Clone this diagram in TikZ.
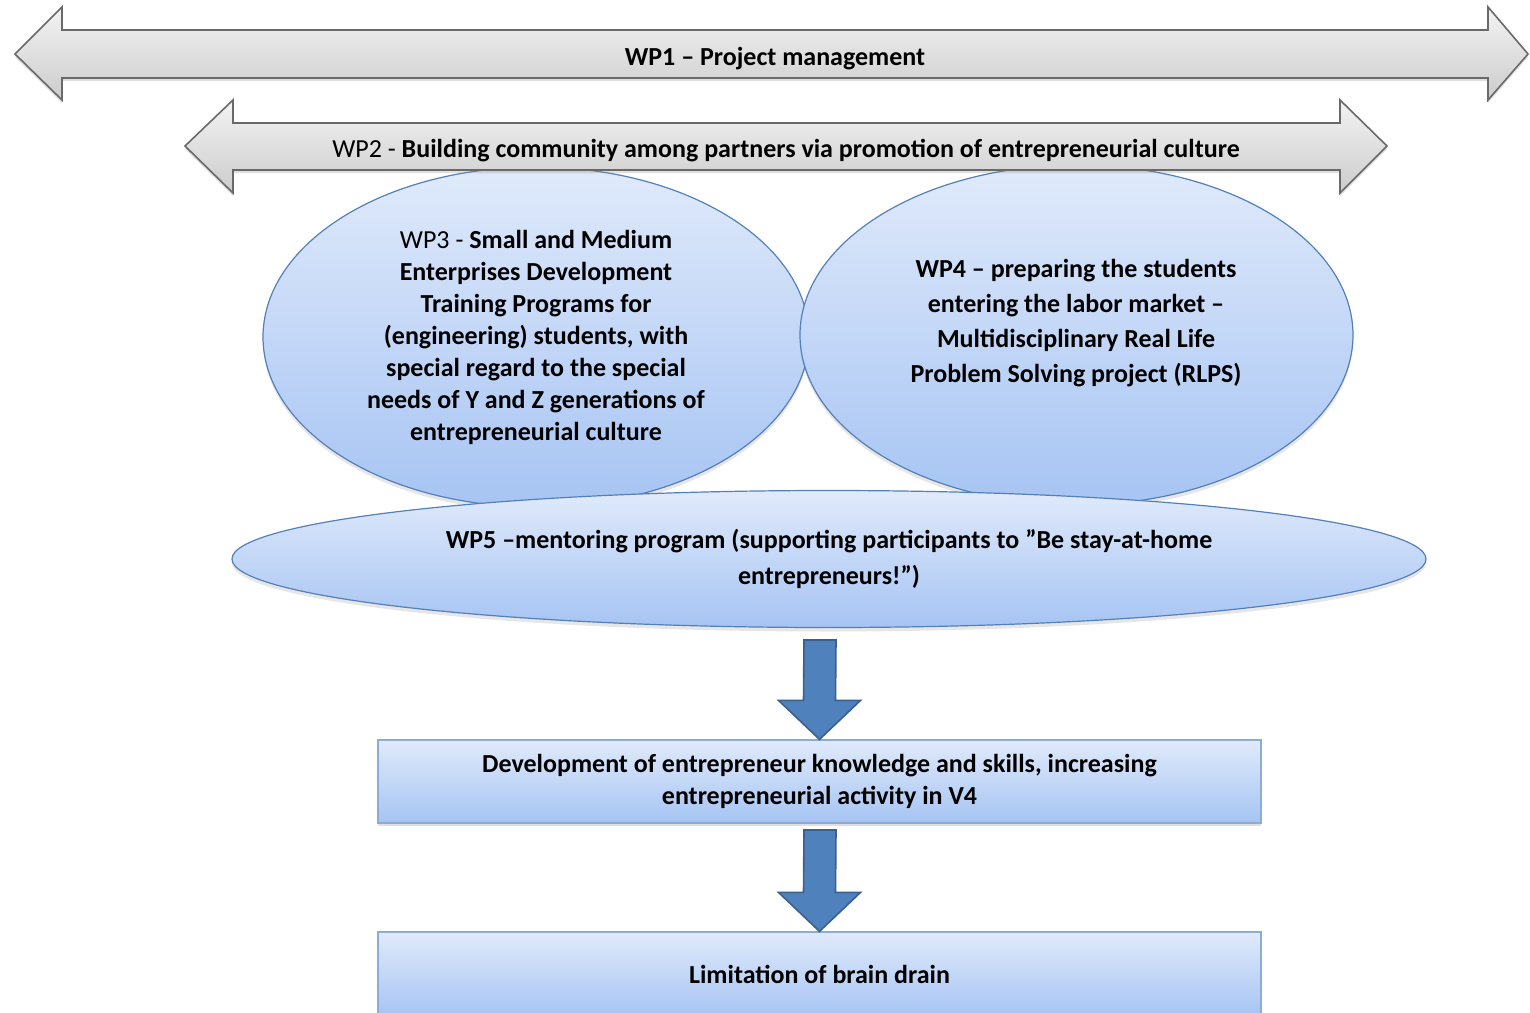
\documentclass[tikz,border=0pt]{standalone}
\usepackage{fontspec}
\setmainfont{Carlito}
\usetikzlibrary{shapes.geometric,calc,shadows}

\definecolor{bandtop}{RGB}{243,243,243}
\definecolor{bandbot}{RGB}{204,204,204}
\definecolor{bandline}{RGB}{105,105,105}
\definecolor{blobtop}{RGB}{224,234,251}
\definecolor{blobbot}{RGB}{166,196,243}
\definecolor{blobline}{RGB}{84,128,186}
\definecolor{boxline}{RGB}{140,172,215}
\definecolor{flowfill}{RGB}{79,129,189}
\definecolor{flowline}{RGB}{58,96,142}

\begin{document}
\begin{tikzpicture}[
  x=0.5pt, y=-0.5pt,
  wpfont/.style={font=\fontsize{13}{16}\selectfont\bfseries, align=center},
  band/.style={draw=bandline, line width=0.8pt, top color=bandtop, bottom color=bandbot,
    drop shadow={opacity=0.25, shadow xshift=0pt, shadow yshift=-1.5pt}},
  blob/.style={ellipse, draw=blobline, line width=0.6pt, top color=blobtop, bottom color=blobbot,
    inner sep=0pt, wpfont, drop shadow={opacity=0.2, shadow xshift=0pt, shadow yshift=-2pt}},
  resbox/.style={rectangle, draw=boxline, line width=0.6pt, top color=blobtop, bottom color=blobbot,
    minimum width=441.5pt, minimum height=41.5pt, wpfont,
    drop shadow={opacity=0.25, shadow xshift=0pt, shadow yshift=-1.5pt}},
  flow/.style={fill=flowfill, draw=flowline, line width=0.8pt, to path={
    ($(\tikztostart)+(-16,0)$) -- ($(\tikztotarget)+(-16,-39)$) -- ($(\tikztotarget)+(-41,-39)$)
    -- (\tikztotarget) -- ($(\tikztotarget)+(41,-39)$) -- ($(\tikztotarget)+(16,-39)$)
    -- ($(\tikztostart)+(16,0)$) -- cycle}}
]
  \clip (0,0) rectangle (1530,1012);

  % WP1 band
  \draw[band] (15,54) -- (62,7) -- (62,30) -- (1488,30) -- (1488,7) -- (1528,54)
    -- (1488,100) -- (1488,78) -- (62,78) -- (62,100) -- cycle;
  \node[wpfont] (wp1) at (775,59) {WP1 -- Project management};

  % WP3 and WP4
  \node[blob, minimum width=273pt, minimum height=170pt] (wp3) at (536,337)
    {{\mdseries WP3 -} Small and Medium\\ Enterprises Development\\ Training Programs for\\
     (engineering) students, with\\ special regard to the special\\
     needs of Y and Z generations of\\ entrepreneurial culture};
  \node[blob, minimum width=276.5pt, minimum height=170pt] (wp4) at (1076.5,335) {};
  \node[wpfont, font=\fontsize{13}{17.5}\selectfont\bfseries] (wp4txt) at (1076,323)
    {WP4 -- preparing the students\\ entering the labor market --\\
     Multidisciplinary Real Life\\ Problem Solving project (RLPS)};

  % WP2 band
  \draw[band] (185,146) -- (233,100) -- (233,123) -- (1340,123) -- (1340,100) -- (1387,146)
    -- (1340,193) -- (1340,170) -- (233,170) -- (233,193) -- cycle;
  \node[wpfont] (wp2) at (786,151)
    {{\mdseries WP2 -} Building community among partners via promotion of entrepreneurial culture};

  % WP5
  \node[blob, minimum width=597pt, minimum height=68.5pt,
    font=\fontsize{13}{18}\selectfont\bfseries] (wp5) at (829,559)
    {WP5 --mentoring program (supporting participants to ”Be stay-at-home\\ entrepreneurs!”)};

  % results
  \node[resbox] (res1) at (819.5,781.5)
    {Development of entrepreneur knowledge and skills, increasing\\ entrepreneurial activity in V4};
  \node[resbox, minimum height=42pt] (res2) at (819.5,974) {Limitation of brain drain};

  % flow arrows
  \coordinate (a1) at (820,640);
  \coordinate (a2) at (820,830);
  \draw[flow] (a1) to (res1.north);
  \draw[flow] (a2) to (res2.north);
\end{tikzpicture}
\end{document}
